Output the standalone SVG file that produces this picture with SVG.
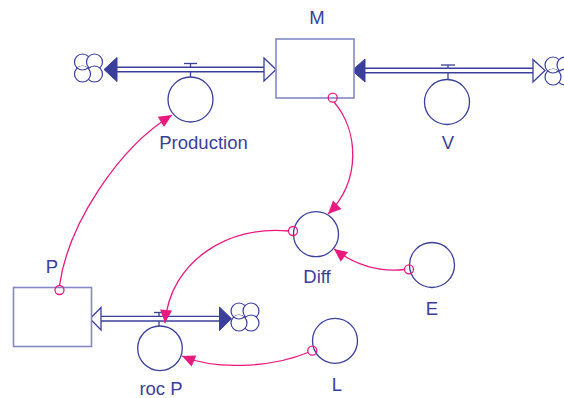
<svg xmlns="http://www.w3.org/2000/svg" width="564" height="398" viewBox="0 0 564 398">
<style>
  .lbl { font-family: "Liberation Sans", Arial, sans-serif; font-size: 18.5px; fill: #3a3f9c; text-anchor: middle; }
  .stock { fill: #ffffff; stroke: #8489c6; stroke-width: 1.6; }
  .aux { fill: #ffffff; stroke: #3a3f9c; stroke-width: 1.3; }
  .pipeo { stroke: #3a3f9c; stroke-width: 6; fill: none; }
  .pipei { stroke: #ffffff; stroke-width: 3.2; fill: none; }
  .valve { stroke: #3a3f9c; stroke-width: 1.3; fill: none; }
  .headf { fill: #3a3f9c; stroke: #3a3f9c; stroke-width: 1; }
  .heado { fill: #ffffff; stroke: #3a3f9c; stroke-width: 1.3; }
  .link { fill: none; stroke: #e8197f; stroke-width: 1.3; }
  .tail { fill: none; stroke: #e8197f; stroke-width: 1.3; }
  .cl { fill: #ffffff; stroke: #3a3f9c; stroke-width: 1.2; }
</style>
<defs>
  <marker id="ah" viewBox="-14 -7 14 14" refX="0" refY="0" markerWidth="14" markerHeight="14" markerUnits="userSpaceOnUse" orient="auto">
    <path d="M0,0 L-13,-6 L-13,6 Z" fill="#e8197f"/>
  </marker>
  <g id="cloud">
    <circle class="cl" cx="-6" cy="-6" r="8"/>
    <circle class="cl" cx="6" cy="-6" r="8"/>
    <circle class="cl" cx="6" cy="6" r="8"/>
    <circle class="cl" cx="-6" cy="6" r="8"/>
    <path d="M-11.29,0 A8,8 0 0 1 -0.71,0 A8,8 0 0 1 -11.29,0 Z" fill="#ffffff" stroke="none"/>
    <path d="M-11.29,0 A8,8 0 0 0 -0.71,0" fill="none" stroke="#3a3f9c" stroke-width="1.2"/>
  </g>
</defs>

<g id="flows">
  <!-- Production flow -->
  <line class="valve" x1="190.5" y1="63.5" x2="190.5" y2="77"/>
  <line class="valve" x1="184" y1="63.5" x2="197" y2="63.5"/>
  <line class="pipeo" x1="115" y1="69.5" x2="266" y2="69.5"/>
  <line class="pipei" x1="115" y1="69.5" x2="266" y2="69.5"/>
  <polygon class="headf" points="104,69.5 117,57.5 117,81.5"/>
  <polygon class="heado" points="264,58 276,69.5 264,81"/>
  <!-- V flow -->
  <line class="valve" x1="448" y1="65" x2="448" y2="80"/>
  <line class="valve" x1="441" y1="65" x2="455" y2="65"/>
  <line class="pipeo" x1="363" y1="70.5" x2="535" y2="70.5"/>
  <line class="pipei" x1="363" y1="70.5" x2="535" y2="70.5"/>
  <polygon class="headf" points="352,70.5 365,59 365,82"/>
  <polygon class="heado" points="533,59.5 545,70.5 533,82"/>
  <!-- roc P flow -->
  <line class="valve" x1="159" y1="312.5" x2="159" y2="326"/>
  <line class="valve" x1="154" y1="312.5" x2="164" y2="312.5"/>
  <line class="pipeo" x1="99" y1="318.7" x2="221" y2="318.7"/>
  <line class="pipei" x1="99" y1="318.7" x2="221" y2="318.7"/>
  <polygon class="heado" points="101,307.5 90,318.7 101,330"/>
  <polygon class="headf" points="231.5,318.7 219.5,307 219.5,330.5"/>
</g>

<g id="cloudL"><use href="#cloud" x="88.5" y="68"/></g>
<g id="cloudR"><use href="#cloud" x="559" y="71"/></g>
<g id="cloudB"><use href="#cloud" x="245" y="317"/></g>

<g id="M">
  <rect class="stock" x="276" y="39" width="78" height="59"/>
  <text class="lbl" x="317" y="24">M</text>
</g>
<g id="P">
  <rect class="stock" x="13.5" y="287.5" width="78" height="59"/>
  <text class="lbl" x="52" y="273">P</text>
</g>
<g id="Production">
  <circle class="aux" cx="190.5" cy="99.5" r="22.5"/>
  <text class="lbl" x="203.5" y="149">Production</text>
</g>
<g id="V">
  <circle class="aux" cx="447" cy="102" r="22.5"/>
  <text class="lbl" x="448" y="149">V</text>
</g>
<g id="Diff">
  <circle class="aux" cx="316" cy="234.2" r="22.5"/>
  <text class="lbl" x="317" y="283">Diff</text>
</g>
<g id="E">
  <circle class="aux" cx="432" cy="265" r="22.5"/>
  <text class="lbl" x="432" y="315">E</text>
</g>
<g id="rocP">
  <circle class="aux" cx="160" cy="348.3" r="22.3"/>
  <text class="lbl" x="161" y="395">roc P</text>
</g>
<g id="L">
  <circle class="aux" cx="335" cy="340.8" r="22.5"/>
  <text class="lbl" x="337" y="391">L</text>
</g>

<g id="connectors">
  <path class="link" d="M59.5,285.5 C68,225 118,148 172,115" marker-end="url(#ah)"/>
  <circle class="tail" cx="59.5" cy="290" r="4.5"/>
  <path class="link" d="M334,102 C358,130 362,180 328,214" marker-end="url(#ah)"/>
  <circle class="tail" cx="332.7" cy="97.7" r="4.5"/>
  <path class="link" d="M288.5,231 C230,225 170,260 165,323" marker-end="url(#ah)"/>
  <circle class="tail" cx="293" cy="231" r="4.5"/>
  <path class="link" d="M404.5,269.5 C380,272 355,265 334,249" marker-end="url(#ah)"/>
  <circle class="tail" cx="409" cy="269.3" r="4.5"/>
  <path class="link" d="M308,352.5 C270,368 215,370 182,356" marker-end="url(#ah)"/>
  <circle class="tail" cx="312.3" cy="350.7" r="4.5"/>
</g>
</svg>
